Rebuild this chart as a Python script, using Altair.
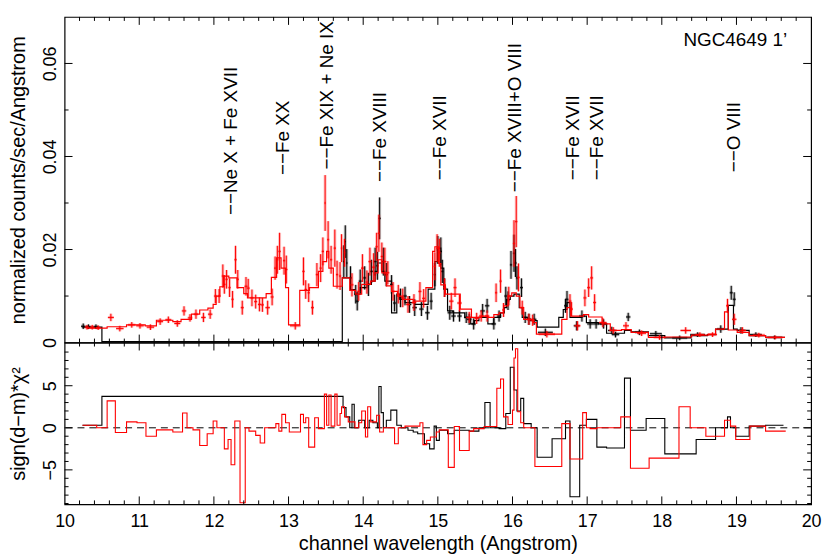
import altair as alt
import pandas as pd

FONT = "Liberation Sans"
W, H_TOP, H_BOT = 752, 328, 163

# ---------------- axis ranges / ticks ----------------
X_DOMAIN = [10, 20]
X_LABELS = [10, 11, 12, 13, 14, 15, 16, 17, 18, 19, 20]
Y_TOP_DOMAIN = [0, 0.07]
Y_TOP_LABELS = [0, 0.02, 0.04, 0.06]
Y_BOT_DOMAIN = [-9.1, 10.13]
Y_BOT_LABELS = [-5, 0, 5]

# ---------------- black spectrum: data points ----------------
BK_X = [10.25, 10.32, 10.42, 13.74, 13.76, 13.78, 13.83, 13.90, 13.92, 13.96,
        14.02, 14.07, 14.11, 14.16, 14.19, 14.22, 14.27, 14.31, 14.38, 14.42,
        14.50, 14.56, 14.62, 14.69, 14.78, 14.86, 14.91, 14.96, 15.00, 15.04,
        15.06, 15.09, 15.16, 15.21, 15.29, 15.38, 15.42, 15.48, 15.60, 15.66,
        15.75, 15.82, 15.91, 15.94, 15.98, 16.02, 16.04, 16.06, 16.12, 16.17,
        16.22, 16.29, 16.44, 16.71, 16.73, 16.86, 16.93, 17.04, 17.12, 17.22,
        17.33, 17.38, 17.55, 17.70, 17.92, 18.24, 18.48, 18.79, 18.93, 18.97,
        19.06, 19.26, 19.51]
BK_Y = [.0035, .0034, .0034, .0174, .0217, .0171, .0139, .0104, .0089, .0132,
        .0139, .0125, .0153, .0174, .0165, .0267, .0174, .0146, .0125, .0085,
        .0096, .0100, .0082, .0075, .0072, .0064, .0089, .0146, .0199, .0196,
        .0153, .0118, .0064, .0057, .0057, .0054, .0050, .0040, .0068, .0079,
        .0040, .0057, .0100, .0090, .0167, .0192, .0171, .0139, .0118, .0054,
        .0050, .0050, .0022, .0079, .0093, .0036, .0057, .0040, .0040, .0040,
        .0026, .0017, .0055, .0022, .0019, .0010, .0017, .0029, .0107, .0093,
        .0026, .0017, .0011]
BK_YERR = [.0006, .0005, .0005, .0035, .0035, .0030, .0025, .0020, .0020, .0025,
           .0025, .0025, .0025, .0030, .0030, .0045, .0030, .0025, .0020, .0018,
           .0020, .0020, .0018, .0018, .0015, .0015, .0018, .0025, .0030, .0030,
           .0025, .0020, .0015, .0012, .0012, .0012, .0012, .0012, .0015, .0015,
           .0012, .0012, .0020, .0020, .0030, .0040, .0030, .0025, .0020, .0012,
           .0012, .0012, .0008, .0015, .0018, .0010, .0012, .0010, .0010, .0010,
           .0008, .0006, .0009, .0006, .0006, .0005, .0005, .0008, .0015, .0015,
           .0007, .0005, .0004]
BK_XERR = [.03, .03, .03, .01, .01, .01, .02, .02, .02, .02,
           .02, .02, .02, .02, .015, .015, .02, .02, .02, .02,
           .025, .025, .025, .03, .03, .03, .02, .015, .015, .015,
           .015, .02, .03, .03, .03, .03, .03, .03, .03, .03,
           .03, .03, .02, .02, .015, .015, .015, .015, .02, .03,
           .03, .03, .10, .02, .02, .04, .04, .04, .04, .05,
           .05, .05, .03, .06, .08, .10, .10, .05, .02, .02,
           .05, .08, .10]

# ---------------- red spectrum: data points ----------------
RD_X = [10.30, 10.37, 10.45, 10.62, 10.74, 10.90, 11.01, 11.15, 11.28, 11.39,
        11.51, 11.60, 11.68, 11.76, 11.86, 11.95, 12.02, 12.07, 12.12, 12.14,
        12.17, 12.21, 12.25, 12.29, 12.32, 12.38, 12.43, 12.46, 12.51, 12.56,
        12.61, 12.65, 12.72, 12.78, 12.82, 12.85, 12.88, 12.94, 12.97, 13.09,
        13.20, 13.23, 13.27, 13.32, 13.38, 13.43, 13.46, 13.49, 13.53, 13.57,
        13.62, 13.65, 13.69, 13.71, 13.75, 13.85, 13.94, 13.99, 14.05, 14.09,
        14.14, 14.18, 14.21, 14.25, 14.29, 14.33, 14.40, 14.47, 14.53, 14.60,
        14.68, 14.76, 14.81, 14.96, 14.99, 15.02, 15.09, 15.18, 15.23, 15.29,
        15.42, 15.52, 15.58, 15.66, 15.78, 15.84, 15.88, 15.95, 16.02, 16.05,
        16.08, 16.13, 16.22, 16.27, 16.46, 16.77, 16.79, 16.87, 16.97, 17.02,
        17.06, 17.10, 17.21, 17.35, 17.52, 17.73, 17.97, 18.32, 18.51, 18.68,
        18.88, 18.97, 19.08, 19.30, 19.52]
RD_Y = [.0033, .0033, .0032, .0054, .0030, .0038, .0036, .0033, .0045, .0049,
        .0041, .0068, .0053, .0061, .0054, .0061, .0100, .0100, .0143, .0125,
        .0136, .0118, .0093, .0178, .0136, .0075, .0121, .0117, .0096, .0088,
        .0082, .0081, .0075, .0098, .0160, .0178, .0196, .0176, .0157, .0036,
        .0153, .0114, .0107, .0075, .0146, .0160, .0196, .0300, .0221, .0178,
        .0203, .0146, .0143, .0203, .0193, .0124, .0110, .0160, .0130, .0174,
        .0162, .0206, .0235, .0185, .0174, .0150, .0110, .0104, .0096, .0082,
        .0086, .0110, .0095, .0164, .0203, .0193, .0118, .0089, .0118, .0085,
        .0054, .0052, .0057, .0057, .0107, .0132, .0070, .0100, .0213, .0260,
        .0140, .0075, .0050, .0048, .0018, .0089, .0072, .0036, .0096, .0118,
        .0139, .0086, .0043, .0026, .0036, .0020, .0011, .0026, .0017, .0017,
        .0079, .0050, .0026, .0016, .0011]
RD_YERR = [.0005, .0005, .0005, .0008, .0006, .0006, .0006, .0006, .0007, .0007,
           .0007, .0010, .0008, .0010, .0010, .0010, .0015, .0015, .0025, .0020,
           .0020, .0020, .0018, .0030, .0020, .0015, .0020, .0020, .0018, .0015,
           .0015, .0015, .0015, .0018, .0025, .0030, .0040, .0030, .0030, .0008,
           .0030, .0020, .0020, .0015, .0025, .0030, .0030, .0060, .0040, .0030,
           .0040, .0030, .0030, .0030, .0030, .0025, .0020, .0030, .0025, .0030,
           .0030, .0030, .0040, .0030, .0030, .0025, .0020, .0020, .0020, .0018,
           .0018, .0020, .0020, .0030, .0030, .0030, .0020, .0018, .0020, .0018,
           .0012, .0012, .0012, .0012, .0020, .0025, .0015, .0020, .0050, .0055,
           .0030, .0015, .0012, .0012, .0007, .0015, .0015, .0010, .0018, .0020,
           .0025, .0018, .0010, .0007, .0008, .0006, .0005, .0007, .0005, .0005,
           .0015, .0012, .0007, .0005, .0004]
RD_XERR = [.03, .03, .03, .04, .05, .05, .05, .05, .04, .04,
           .04, .03, .03, .03, .03, .03, .02, .02, .015, .015,
           .015, .015, .015, .015, .015, .02, .02, .02, .02, .02,
           .02, .02, .03, .02, .015, .015, .015, .015, .015, .07,
           .015, .015, .015, .02, .015, .015, .015, .01, .015, .015,
           .015, .015, .015, .01, .01, .02, .02, .02, .02, .02,
           .02, .015, .015, .015, .02, .02, .02, .02, .025, .025,
           .03, .02, .02, .015, .015, .015, .02, .03, .02, .03,
           .04, .03, .03, .03, .015, .015, .02, .02, .015, .015,
           .015, .02, .03, .03, .11, .02, .02, .04, .02, .02,
           .02, .02, .05, .05, .04, .06, .08, .07, .06, .06,
           .02, .03, .05, .08, .10]

# ---------------- folded models (histogram steps: bin edges + values) ----------------
BK_MODEL_EDGES = [10.24, 10.50, 13.72, 13.83, 13.89, 13.96, 14.05, 14.11, 14.16, 14.19,
                  14.25, 14.29, 14.38, 14.45, 14.49, 14.56, 14.69, 14.87, 14.96, 15.00,
                  15.04, 15.08, 15.13, 15.20, 15.36, 15.44, 15.49, 15.55, 15.67, 15.75,
                  15.84, 15.89, 15.92, 15.97, 16.02, 16.09, 16.13, 16.20, 16.24, 16.33,
                  16.62, 16.68, 16.73, 16.77, 16.93, 16.99, 17.15, 17.26, 17.50, 17.59,
                  17.82, 18.04, 18.39, 18.61, 18.72, 18.89, 18.96, 19.01, 19.17, 19.39,
                  19.65]
BK_MODEL = [.0033, .0002, .0139, .0114, .0104, .0118, .0125, .0132, .0153, .0171,
            .0153, .0132, .0064, .0104, .0093, .0086, .0082, .0115, .0174, .0203,
            .0160, .0115, .0068, .0064, .0054, .0040, .0047, .0054, .0040, .0054,
            .0064, .0075, .0093, .0100, .0104, .0075, .0054, .0050, .0047, .0033,
            .0054, .0071, .0086, .0054, .0057, .0043, .0040, .0020, .0026, .0023,
            .0015, .0010, .0015, .0017, .0029, .0080, .0029, .0026, .0015, .0011]

RD_MODEL_EDGES = [10.30, 10.57, 10.83, 11.08, 11.23, 11.45, 11.56, 11.70, 11.81, 11.92,
                  11.99, 12.03, 12.08, 12.13, 12.20, 12.31, 12.40, 12.45, 12.60, 12.70,
                  12.77, 12.84, 12.90, 12.96, 13.00, 13.15, 13.28, 13.40, 13.46, 13.51,
                  13.54, 13.60, 13.72, 13.82, 13.90, 13.98, 14.10, 14.16, 14.20, 14.25,
                  14.31, 14.38, 14.46, 14.53, 14.67, 14.84, 14.93, 14.96, 15.01, 15.04,
                  15.10, 15.30, 15.45, 15.49, 15.58, 15.67, 15.75, 15.82, 15.88, 15.94,
                  15.99, 16.05, 16.10, 16.15, 16.28, 16.32, 16.66, 16.73, 16.78, 16.95,
                  17.02, 17.20, 17.31, 17.46, 17.59, 17.82, 18.04, 18.40, 18.62, 18.72,
                  18.84, 18.89, 19.01, 19.17, 19.39, 19.65]
RD_MODEL = [.0031, .0034, .0038, .0036, .0048, .0045, .0050, .0061, .0070, .0074,
            .0082, .0100, .0120, .0143, .0139, .0118, .0105, .0096, .0096, .0105,
            .0140, .0182, .0160, .0118, .0038, .0112, .0118, .0153, .0174, .0196,
            .0160, .0121, .0139, .0112, .0104, .0125, .0132, .0150, .0178, .0150,
            .0122, .0110, .0100, .0093, .0089, .0118, .0196, .0206, .0170, .0124,
            .0104, .0072, .0054, .0054, .0057, .0054, .0060, .0064, .0079, .0100,
            .0107, .0100, .0075, .0050, .0043, .0018, .0050, .0075, .0057, .0060,
            .0055, .0040, .0026, .0028, .0022, .0011, .0012, .0016, .0018, .0029,
            .0066, .0027, .0022, .0015, .0011]

# ---------------- residuals sign(d-m)*chi^2 (steps) ----------------
BK_RES_EDGES = [10.24, 10.50, 13.73, 13.77, 13.82, 13.85, 13.88, 13.94, 14.02, 14.08,
                14.13, 14.19, 14.21, 14.24, 14.27, 14.31, 14.37, 14.45, 14.51, 14.60,
                14.67, 14.73, 14.82, 14.89, 14.95, 14.98, 15.02, 15.13, 15.22, 15.42,
                15.55, 15.63, 15.70, 15.82, 15.91, 15.97, 16.02, 16.06, 16.11, 16.15,
                16.25, 16.33, 16.53, 16.71, 16.77, 16.90, 16.99, 17.13, 17.26, 17.50,
                17.58, 17.79, 18.04, 18.46, 18.72, 18.88, 18.92, 18.99, 19.17, 19.39,
                19.63]
BK_RES = [0.3, 3.73, 2.4, 1.3, 0.0, 2.8, 0.0, 0.9, 0.0, 0.9,
          0.6, 0.0, 4.9, 1.8, 0.0, 0.9, 2.1, 0.3, 0.0, -0.3,
          -0.5, -0.7, -1.9, -2.5, 0.2, -1.5, -0.3, -0.7, -0.3, -0.4,
          0.0, 3.0, 0.0, -0.1, 1.7, 7.2, 4.5, 2.0, 3.5, 0.5,
          0.0, -3.5, -1.3, 0.8, -8.2, 0.3, 1.0, -2.3, -2.4, 5.9,
          -0.3, 1.1, -3.1, -1.4, 0.0, 1.3, 0.0, -1.0, 0.2, 0.3]

RD_RES_EDGES = [10.24, 10.43, 10.57, 10.68, 10.83, 10.97, 11.09, 11.23, 11.45, 11.58,
                11.64, 11.72, 11.81, 11.91, 11.99, 12.04, 12.14, 12.19, 12.23, 12.28,
                12.35, 12.42, 12.47, 12.56, 12.62, 12.68, 12.83, 12.87, 12.91, 12.96,
                13.01, 13.16, 13.20, 13.23, 13.27, 13.35, 13.40, 13.48, 13.51, 13.54,
                13.57, 13.62, 13.65, 13.69, 13.71, 13.75, 13.80, 13.89, 13.94, 13.98,
                14.03, 14.06, 14.10, 14.18, 14.22, 14.27, 14.42, 14.47, 14.56, 14.76,
                14.80, 14.85, 14.90, 14.98, 15.02, 15.14, 15.22, 15.29, 15.42, 15.48,
                15.62, 15.79, 15.84, 15.88, 15.94, 16.00, 16.02, 16.04, 16.07, 16.11,
                16.15, 16.30, 16.66, 16.77, 16.94, 16.99, 17.04, 17.13, 17.45, 17.58,
                17.83, 18.23, 18.38, 18.59, 18.84, 18.92, 18.99, 19.18, 19.39, 19.66]
RD_RES = [0.3, 0.0, 3.2, -0.55, 0.7, 0.6, -1.0, -0.25, -0.5, 1.75,
          0.0, -0.25, -2.1, -0.7, 0.8, 0.0, -2.5, -1.4, -4.4, 0.8,
          -8.9, 0.0, -0.4, -0.9, -1.8, 0.0, 0.5, -0.4, 1.6, 0.6,
          -0.5, 1.6, 0.6, 1.2, -2.3, 1.2, -0.1, 4.0, 0.3, 3.9,
          0.2, 4.0, 0.3, 1.7, 2.5, 1.3, 0.7, 0.0, 0.6, 2.0,
          -1.1, 2.5, 0.7, 1.5, -0.5, 0.0, -1.9, 0.0, 0.2, 0.6,
          -2.0, -1.5, -1.1, -0.5, -0.25, -4.7, 0.15, -2.7, -0.4, -0.1,
          0.15, 4.7, 5.8, 1.3, 0.4, 2.1, 8.3, 9.4, 1.9, 0.6,
          0.0, -4.6, 0.5, -3.7, 1.8, 0.0, -0.1, 0.0, 1.3, -4.8,
          -3.6, 2.5, 0.0, -1.0, 0.9, 0.2, -1.4, 0.2, -0.4]

# ---------------- line identifications ----------------
LINE_X = [12.234, 12.926, 13.511, 14.229, 15.027, 16.037, 16.809, 17.128, 18.963]
LINE_Y = [0.0274, 0.0360, 0.0372, 0.0345, 0.0349, 0.0323, 0.0349, 0.0349, 0.0366]
LINE_TEXT = ["\u2212\u2212Ne X + Fe XVII", "\u2212\u2212Fe XX", "\u2212\u2212Fe XIX + Ne IX",
             "\u2212\u2212Fe XVIII", "\u2212\u2212Fe XVII", "\u2212\u2212Fe XVIII+O VIII",
             "\u2212\u2212Fe XVII", "\u2212\u2212Fe XVII", "\u2212\u2212O VIII"]
TITLE_TEXT = ["NGC4649 1\u2019"]
TITLE_X = [19.68]
TITLE_Y = [0.0651]


# ---------------- helpers ----------------
def points_df(xs, ys, yerr, xerr):
    n = min(len(xs), len(ys), len(yerr), len(xerr))
    return pd.DataFrame({
        "x": xs[:n], "y": ys[:n],
        "ylo": [ys[i] - yerr[i] for i in range(n)],
        "yhi": [ys[i] + yerr[i] for i in range(n)],
        "xlo": [xs[i] - xerr[i] for i in range(n)],
        "xhi": [xs[i] + xerr[i] for i in range(n)],
    })


def step_df(edges, vals):
    n = min(len(edges) - 1, len(vals))
    return pd.DataFrame({"x": list(edges[:n + 1]),
                         "y": list(vals[:n]) + [vals[n - 1]],
                         "i": list(range(n + 1))})


XS = alt.Scale(domain=X_DOMAIN, nice=False, zero=False)
YS_TOP = alt.Scale(domain=Y_TOP_DOMAIN, nice=False, zero=False)
YS_BOT = alt.Scale(domain=Y_BOT_DOMAIN, nice=False, zero=False)

Y_AX_TOP = alt.Axis(title="normalized counts/sec/Angstrom", values=Y_TOP_LABELS, format="~g",
                    labelAngle=270, labelAlign="center", labelBaseline="alphabetic",
                    labelPadding=9, titlePadding=13, ticks=False, tickSize=0,
                    domain=False, grid=False)
Y_AX_BOT = alt.Axis(title="sign(d\u2212m)*\u03c7\u00b2", values=Y_BOT_LABELS, format="d",
                    labelAngle=270, labelAlign="center", labelBaseline="alphabetic",
                    labelPadding=9, titlePadding=13, ticks=False, tickSize=0,
                    domain=False, grid=False)
X_AX_BOT = alt.Axis(title="channel wavelength (Angstrom)", values=X_LABELS, format="d",
                    labelPadding=8, titlePadding=3, ticks=False, tickSize=0,
                    domain=False, grid=False, labelFlush=False)

X_MAJOR = [11, 12, 13, 14, 15, 16, 17, 18, 19]
X_MINOR = [round(10 + 0.2 * k, 1) for k in range(1, 50) if k % 5 != 0]
YT_MAJOR = [0.02, 0.04, 0.06]
YT_MINOR = [0.01, 0.03, 0.05]
YB_MAJOR = [-5, 0, 5]
YB_MINOR = [v for v in range(-9, 11) if v % 5 != 0]


def x_enc(field, axis):
    return alt.X(f"{field}:Q", scale=XS, axis=axis)


def frame_ticks(height, yscale, yaxis, ymaj, ymin, xaxis):
    layers = []
    for vals, ln in ((X_MAJOR, 8), (X_MINOR, 4)):
        d = pd.DataFrame({"x": vals})
        layers.append(alt.Chart(d).mark_rule(color="black", strokeWidth=1).encode(
            x=x_enc("x", xaxis), y=alt.value(height), y2=alt.value(height - ln)))
        layers.append(alt.Chart(d).mark_rule(color="black", strokeWidth=1).encode(
            x=x_enc("x", xaxis), y=alt.value(0), y2=alt.value(ln)))
    for vals, ln in ((ymaj, 8), (ymin, 4)):
        d = pd.DataFrame({"y": vals})
        layers.append(alt.Chart(d).mark_rule(color="black", strokeWidth=1).encode(
            y=alt.Y("y:Q", scale=yscale, axis=yaxis), x=alt.value(0), x2=alt.value(ln)))
        layers.append(alt.Chart(d).mark_rule(color="black", strokeWidth=1).encode(
            y=alt.Y("y:Q", scale=yscale, axis=yaxis), x=alt.value(W), x2=alt.value(W - ln)))
    return layers


def spectrum_layers(df, model, color):
    yv = alt.Y("ylo:Q", scale=YS_TOP, axis=Y_AX_TOP)
    yh = alt.Y("y:Q", scale=YS_TOP, axis=Y_AX_TOP)
    base = alt.Chart(df)
    return [
        alt.Chart(model).mark_line(interpolate="step-after", color=color, strokeWidth=1.2).encode(
            x=x_enc("x", None), y=alt.Y("y:Q", scale=YS_TOP, axis=Y_AX_TOP), order="i:Q"),
        base.mark_rule(color=color, strokeWidth=3, opacity=0.25).encode(
            x=x_enc("x", None), y=yv, y2="yhi:Q"),
        base.mark_rule(color=color, strokeWidth=3, opacity=0.25).encode(
            x=x_enc("xlo", None), x2="xhi:Q", y=yh),
        base.mark_rule(color=color, strokeWidth=1).encode(
            x=x_enc("x", None), y=yv, y2="yhi:Q"),
        base.mark_rule(color=color, strokeWidth=1).encode(
            x=x_enc("xlo", None), x2="xhi:Q", y=yh),
    ]


bk_pts = points_df(BK_X, BK_Y, BK_YERR, BK_XERR)
rd_pts = points_df(RD_X, RD_Y, RD_YERR, RD_XERR)
bk_mod = step_df(BK_MODEL_EDGES, BK_MODEL)
rd_mod = step_df(RD_MODEL_EDGES, RD_MODEL)

labels_df = pd.DataFrame({"x": LINE_X, "y": LINE_Y, "t": LINE_TEXT})
title_df = pd.DataFrame({"x": TITLE_X, "y": TITLE_Y, "t": TITLE_TEXT})

top_layers = []
top_layers += spectrum_layers(bk_pts, bk_mod, "#000000")
top_layers += spectrum_layers(rd_pts, rd_mod, "#ff0000")
top_layers.append(alt.Chart(labels_df).mark_text(
    angle=270, align="left", baseline="middle", font=FONT, fontSize=19, color="black").encode(
    x=x_enc("x", None), y=alt.Y("y:Q", scale=YS_TOP, axis=Y_AX_TOP), text="t:N"))
top_layers.append(alt.Chart(title_df).mark_text(
    align="right", baseline="middle", font=FONT, fontSize=19, color="black").encode(
    x=x_enc("x", None), y=alt.Y("y:Q", scale=YS_TOP, axis=Y_AX_TOP), text="t:N"))
top_layers += frame_ticks(H_TOP, YS_TOP, Y_AX_TOP, YT_MAJOR, YT_MINOR, None)

top = alt.layer(*top_layers).properties(width=W, height=H_TOP)

bk_res = step_df(BK_RES_EDGES, BK_RES)
rd_res = step_df(RD_RES_EDGES, RD_RES)

bot_layers = [
    alt.Chart(pd.DataFrame({"y": [0]})).mark_rule(color="black", strokeWidth=1, strokeDash=[7, 5]).encode(
        y=alt.Y("y:Q", scale=YS_BOT, axis=Y_AX_BOT)),
    alt.Chart(bk_res).mark_line(interpolate="step-after", color="#000000", strokeWidth=1.1).encode(
        x=x_enc("x", X_AX_BOT), y=alt.Y("y:Q", scale=YS_BOT, axis=Y_AX_BOT), order="i:Q"),
    alt.Chart(rd_res).mark_line(interpolate="step-after", color="#ff0000", strokeWidth=1.1).encode(
        x=x_enc("x", X_AX_BOT), y=alt.Y("y:Q", scale=YS_BOT, axis=Y_AX_BOT), order="i:Q"),
]
bot_layers += frame_ticks(H_BOT, YS_BOT, Y_AX_BOT, YB_MAJOR, YB_MINOR, X_AX_BOT)

bottom = alt.layer(*bot_layers).properties(width=W, height=H_BOT)

chart = alt.vconcat(top, bottom, spacing=0, bounds="flush").properties(
    padding={"left": 0, "top": 5, "right": 5, "bottom": 0}
).configure_view(
    stroke="black", strokeWidth=1.2
).configure_axis(
    labelFont=FONT, titleFont=FONT, labelFontSize=18, titleFontSize=20,
    titleFontWeight="normal", labelColor="black", titleColor="black"
)

chart.save("out.html", embed_options={"renderer": "svg", "actions": False})
